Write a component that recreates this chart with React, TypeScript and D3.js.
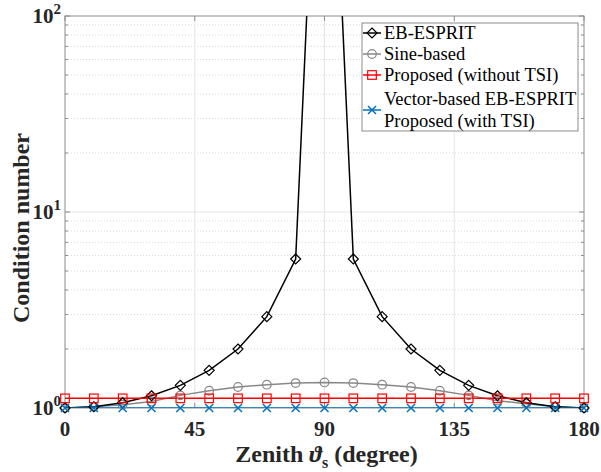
import React from "react";
import * as d3 from "d3";

const angles = [0, 10, 20, 30, 40, 50, 60, 70, 80, 90, 100, 110, 120, 130, 140, 150, 160, 170, 180];
const ebEsprit = [1.0, 1.015, 1.064, 1.155, 1.305, 1.556, 2.0, 2.924, 5.759, 1.633e16, 5.759, 2.924, 2.0, 1.556, 1.305, 1.155, 1.064, 1.015, 1.0];
const sineBased = [1.0, 1.015, 1.04, 1.08, 1.16, 1.225, 1.28, 1.315, 1.34, 1.35, 1.34, 1.315, 1.28, 1.225, 1.16, 1.09, 1.05, 1.015, 1.0];
const proposedNoTSI = [1.12, 1.12, 1.12, 1.12, 1.12, 1.12, 1.12, 1.12, 1.12, 1.12, 1.12, 1.12, 1.12, 1.12, 1.12, 1.12, 1.12, 1.12, 1.12];
const vectorBased = [1.0, 1.0, 1.0, 1.0, 1.0, 1.0, 1.0, 1.0, 1.0, 1.0, 1.0, 1.0, 1.0, 1.0, 1.0, 1.0, 1.0, 1.0, 1.0];
const xTicks = [0, 45, 90, 135, 180];
const yTicks = [1, 10, 100];
const yTickExps = ["0", "1", "2"];

const W = 601, H = 472;
const L = 65, R = 584, T = 16, B = 408;
const SERIF = "Liberation Serif";

export default function App() {
  const x = d3.scaleLinear().domain([0, 180]).range([L, R]);
  const y = d3.scaleLog().domain([1, 100]).range([B, T]);
  const line = d3.line<number>().x((_, i) => x(angles[i])).y((d) => y(Math.min(d, 1e4)));
  const minor: number[] = [];
  [1, 10].forEach((dec) => { for (let k = 2; k <= 9; k++) minor.push(dec * k); });
  const inDom = (v: number) => v >= 1 && v <= 100;
  const axisColor = "#8c8c8c";
  const gridColor = "#e4e4e4";
  const blue = "#0072BD";
  const bold = (size: number) => ({ fontFamily: SERIF, fontWeight: "bold" as const, fontSize: size });

  const diamond = (cx: number, cy: number, key: any, s = 5) => (
    <path key={key} d={`M${cx},${cy - s}L${cx + s},${cy}L${cx},${cy + s}L${cx - s},${cy}Z`} fill="none" stroke="#000" strokeWidth={1.2} />
  );
  const circle = (cx: number, cy: number, key: any) => (
    <circle key={key} cx={cx} cy={cy} r={4.3} fill="none" stroke="#888" strokeWidth={1.2} />
  );
  const square = (cx: number, cy: number, key: any) => (
    <rect key={key} x={cx - 4.3} y={cy - 4.3} width={8.6} height={8.6} fill="none" stroke="#ff0000" strokeWidth={1.2} />
  );
  const cross = (cx: number, cy: number, key: any) => (
    <path key={key} d={`M${cx - 4},${cy - 4}L${cx + 4},${cy + 4}M${cx - 4},${cy + 4}L${cx + 4},${cy - 4}`} stroke={blue} strokeWidth={1.5} />
  );

  const legendX0 = 362, legendX1 = 578;
  const legendRows = [
    { y: 33, text: ["EB-ESPRIT"], color: "#000", m: diamond },
    { y: 54, text: ["Sine-based"], color: "#888", m: circle },
    { y: 75, text: ["Proposed (without TSI)"], color: "#ff0000", m: square },
    { y: 110, text: ["Vector-based EB-ESPRIT", "Proposed (with TSI)"], color: blue, m: cross },
  ];

  return (
    <svg width={W} height={H} style={{ position: "absolute", left: 0, top: 0, background: "#fff" }}>
      <rect x={0} y={0} width={W} height={H} fill="#fff" />
      <defs>
        <clipPath id="plotclip"><rect x={L} y={T} width={R - L} height={B - T} /></clipPath>
      </defs>
      {minor.map((v) => (
        <line key={"mg" + v} x1={L} x2={R} y1={y(v)} y2={y(v)} stroke="#d8d8d8" strokeWidth={1} strokeDasharray="1,2" />
      ))}
      {[10].map((v) => (
        <line key={"yg" + v} x1={L} x2={R} y1={y(v)} y2={y(v)} stroke={gridColor} strokeWidth={1} />
      ))}
      {xTicks.slice(1, -1).map((v) => (
        <line key={"xg" + v} x1={x(v)} x2={x(v)} y1={T} y2={B} stroke={gridColor} strokeWidth={1} />
      ))}
      <rect x={L} y={T} width={R - L} height={B - T} fill="none" stroke={axisColor} strokeWidth={1} />
      {xTicks.map((v) => (
        <g key={"xt" + v}>
          <line x1={x(v)} x2={x(v)} y1={B} y2={B - 5} stroke={axisColor} />
          <line x1={x(v)} x2={x(v)} y1={T} y2={T + 5} stroke={axisColor} />
          <text x={x(v)} y={B + 28} textAnchor="middle" style={bold(21)} fill="#262626">{v}</text>
        </g>
      ))}
      {yTicks.map((v, i) => (
        <g key={"yt" + v}>
          <line x1={L} x2={L + 5} y1={y(v)} y2={y(v)} stroke={axisColor} />
          <line x1={R} x2={R - 5} y1={y(v)} y2={y(v)} stroke={axisColor} />
          <text x={L - 4} y={y(v) + 7} textAnchor="end" style={bold(21)} fill="#262626">
            10<tspan dy={-9} style={{ fontSize: 15 }}>{yTickExps[i]}</tspan>
          </text>
        </g>
      ))}
      {minor.map((v) => (
        <g key={"ymt" + v}>
          <line x1={L} x2={L + 3} y1={y(v)} y2={y(v)} stroke={axisColor} />
          <line x1={R} x2={R - 3} y1={y(v)} y2={y(v)} stroke={axisColor} />
        </g>
      ))}
      <g clipPath="url(#plotclip)">
        <path d={line(sineBased) || ""} fill="none" stroke="#888" strokeWidth={1.5} />
        <path d={line(ebEsprit) || ""} fill="none" stroke="#000" strokeWidth={1.5} />
        <path d={line(proposedNoTSI) || ""} fill="none" stroke="#ff0000" strokeWidth={1.5} />
        <path d={line(vectorBased) || ""} fill="none" stroke={blue} strokeWidth={1.5} />
      </g>
      {sineBased.map((v, i) => circle(x(angles[i]), y(v), "c" + i))}
      {ebEsprit.map((v, i) => (inDom(v) ? diamond(x(angles[i]), y(v), "d" + i) : null))}
      {proposedNoTSI.map((v, i) => square(x(angles[i]), y(v), "s" + i))}
      {vectorBased.map((v, i) => cross(x(angles[i]), y(v), "x" + i))}
      <rect x={legendX0} y={23} width={legendX1 - legendX0} height={108} fill="#fff" stroke={axisColor} strokeWidth={1} />
      {legendRows.map((r, i) => (
        <g key={"lg" + i}>
          <line x1={legendX0 + 1} x2={legendX0 + 19} y1={r.y} y2={r.y} stroke={r.color} strokeWidth={1.5} />
          {r.m(legendX0 + 10, r.y, "lm" + i)}
          {r.text.map((t, j) => (
            <text key={j} x={legendX0 + 22} y={r.y + 6 + (r.text.length > 1 ? (j === 0 ? -11 : 11) : 0)} style={{ fontFamily: SERIF, fontSize: 18.5 }} fill="#000">{t}</text>
          ))}
        </g>
      ))}
      <text x={(L + R) / 2 + 2} y={462} textAnchor="middle" style={bold(24)} fill="#262626">
        Zenith <tspan style={{ fontStyle: "italic" }}>ϑ</tspan><tspan dy={6} style={{ fontSize: 16 }}>s</tspan><tspan dy={-6}> (degree)</tspan>
      </text>
      <text transform={`translate(29,${(T + B) / 2 + 16}) rotate(-90)`} textAnchor="middle" style={bold(24)} fill="#262626">
        Condition number
      </text>
    </svg>
  );
}
